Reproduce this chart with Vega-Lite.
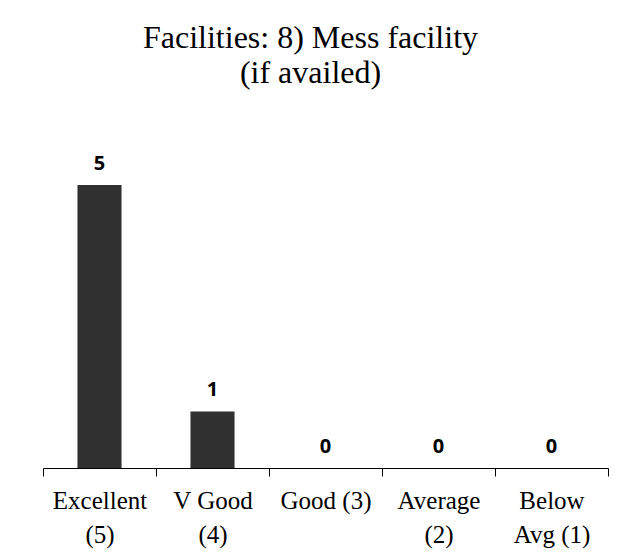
{
  "$schema": "https://vega.github.io/schema/vega-lite/v6.json",
  "autosize": "none",
  "width": 565,
  "height": 368,
  "padding": {"left": 43, "top": 100, "right": 19, "bottom": 86},
  "background": "white",
  "title": {
    "text": ["Facilities: 8) Mess facility", "(if availed)"],
    "font": "Liberation Serif",
    "fontSize": 32,
    "fontWeight": "normal",
    "lineHeight": 35,
    "color": "black",
    "anchor": "middle",
    "dx": -15,
    "offset": 10
  },
  "data": {
    "values": [
      {"rating": "Excellent|(5)", "count": 5},
      {"rating": "V Good|(4)", "count": 1},
      {"rating": "Good (3)", "count": 0},
      {"rating": "Average|(2)", "count": 0},
      {"rating": "Below|Avg   (1)", "count": 0}
    ]
  },
  "encoding": {
    "x": {
      "field": "rating",
      "type": "nominal",
      "sort": null,
      "scale": {"paddingInner": 0, "paddingOuter": 0},
      "axis": {
        "title": null,
        "labelAngle": 0,
        "labelExpr": "datum.value ? split(datum.value, '|') : ''",
        "labelFont": "Liberation Serif",
        "labelFontSize": 25,
        "labelLineHeight": 34,
        "labelColor": "black",
        "labelPadding": 12,
        "labelBaseline": "top",
        "domainColor": "black",
        "tickColor": "black",
        "tickSize": 8,
        "tickBand": "extent"
      }
    },
    "y": {
      "field": "count",
      "type": "quantitative",
      "scale": {"domain": [0, 6.5]},
      "axis": null
    }
  },
  "layer": [
    {"mark": {"type": "bar", "color": "#303030", "width": {"band": 0.39}}},
    {
      "mark": {
        "type": "text",
        "baseline": "bottom",
        "dy": -11,
        "font": "Open Sans",
        "fontWeight": "bold",
        "fontSize": 20,
        "color": "black"
      },
      "encoding": {"text": {"field": "count", "type": "quantitative"}}
    }
  ],
  "config": {"view": {"stroke": null}}
}
